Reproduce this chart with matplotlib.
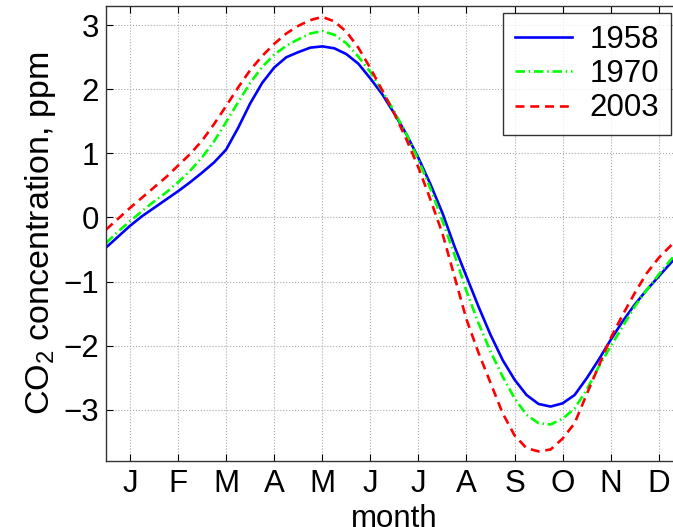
import matplotlib
matplotlib.use("Agg")
import matplotlib.pyplot as plt

plt.rcParams["font.family"] = ["Liberation Sans", "DejaVu Sans"]
plt.rcParams["mathtext.fontset"] = "custom"
plt.rcParams["mathtext.rm"] = "Liberation Sans"
plt.rcParams["mathtext.it"] = "Liberation Sans:italic"

# month position (1 = January), quarter-month steps from 0.5 to 12.5
month_pos = [0.5, 0.75, 1.0, 1.25, 1.5, 1.75, 2.0, 2.25, 2.5, 2.75, 3.0, 3.25,
             3.5, 3.75, 4.0, 4.25, 4.5, 4.75, 5.0, 5.25, 5.5, 5.75, 6.0, 6.25,
             6.5, 6.75, 7.0, 7.25, 7.5, 7.75, 8.0, 8.25, 8.5, 8.75, 9.0, 9.25,
             9.5, 9.75, 10.0, 10.25, 10.5, 10.75, 11.0, 11.25, 11.5, 11.75, 12.0, 12.25,
             12.5]

co2_1958 = [-0.47, -0.30, -0.13, 0.02, 0.15, 0.28, 0.41, 0.55, 0.70, 0.86, 1.06, 1.40,
            1.78, 2.10, 2.34, 2.50, 2.58, 2.65, 2.67, 2.64, 2.55, 2.40, 2.17, 1.92,
            1.62, 1.30, 0.93, 0.52, 0.07, -0.45, -0.92, -1.39, -1.83, -2.22, -2.53, -2.77,
            -2.91, -2.95, -2.90, -2.77, -2.51, -2.22, -1.91, -1.62, -1.36, -1.13, -0.92, -0.71,
            -0.51]
co2_1970 = [-0.40, -0.22, -0.06, 0.10, 0.25, 0.39, 0.55, 0.73, 0.94, 1.19, 1.49, 1.80,
            2.10, 2.35, 2.54, 2.68, 2.78, 2.87, 2.91, 2.85, 2.72, 2.51, 2.27, 1.97,
            1.65, 1.30, 0.90, 0.45, -0.05, -0.58, -1.15, -1.65, -2.09, -2.48, -2.82, -3.08,
            -3.21, -3.23, -3.14, -2.98, -2.69, -2.33, -2.01, -1.70, -1.39, -1.13, -0.89, -0.66,
            -0.45]
co2_2003 = [-0.19, -0.02, 0.15, 0.31, 0.47, 0.63, 0.81, 0.99, 1.20, 1.46, 1.74, 2.03,
            2.30, 2.52, 2.71, 2.87, 2.99, 3.08, 3.13, 3.06, 2.90, 2.65, 2.33, 1.98,
            1.62, 1.22, 0.78, 0.28, -0.25, -0.92, -1.59, -2.11, -2.58, -3.05, -3.40, -3.60,
            -3.65, -3.62, -3.45, -3.21, -2.76, -2.32, -1.88, -1.52, -1.18, -0.87, -0.63, -0.44,
            -0.26]

month_ticks = list(range(1, 13))
month_labels = ["J", "F", "M", "A", "M", "J", "J", "A", "S", "O", "N", "D"]
y_ticks = [-3, -2, -1, 0, 1, 2, 3]

fig = plt.figure(figsize=(6.73, 5.27), dpi=100)
# axes runs a little past the right edge, like the cropped original
ax = fig.add_axes([0.1575, 0.1252, 0.857, 0.8634])

ax.plot(month_pos, co2_1958, color="#0000ff", lw=1.9, ls="-", label="1958")
ax.plot(month_pos, co2_1970, color="#00ff00", lw=1.9, ls=(0, (3.6, 1.4, 0.6, 1.4)), label="1970")
ax.plot(month_pos, co2_2003, color="#ff0000", lw=1.9, ls=(0, (3.4, 2.2)), label="2003")

ax.set_xlim(0.5, 12.5)
ax.set_ylim(-3.8, 3.3)
ax.set_xticks(month_ticks)
ax.set_xticklabels(month_labels)
ax.set_yticks(y_ticks)
ax.tick_params(direction="in", labelsize=22.5, top=True, right=True, length=5, width=0.8)
ax.tick_params(axis="x", pad=6)
ax.tick_params(axis="y", pad=5)
ax.grid(True, ls=":", color="#aaaaaa", lw=0.8)
for sp in ax.spines.values():
    sp.set_color("#333333")
    sp.set_linewidth(1.0)

ax.set_xlabel("month", fontsize=22.5)
ax.xaxis.set_label_coords(0.5, -0.095)
ax.set_ylabel(r"CO$_2$ concentration, ppm", fontsize=24.5, labelpad=4)

leg = ax.legend(loc="upper left", bbox_to_anchor=(0.688, 0.985), borderaxespad=0,
                fontsize=22.5, frameon=True, fancybox=False, shadow=False,
                handlelength=1.85, handletextpad=0.55, labelspacing=0.14,
                borderpad=0.38)
leg.get_frame().set_edgecolor("black")
leg.get_frame().set_linewidth(1.0)

plt.savefig("out.png", dpi=100)
plt.close()
